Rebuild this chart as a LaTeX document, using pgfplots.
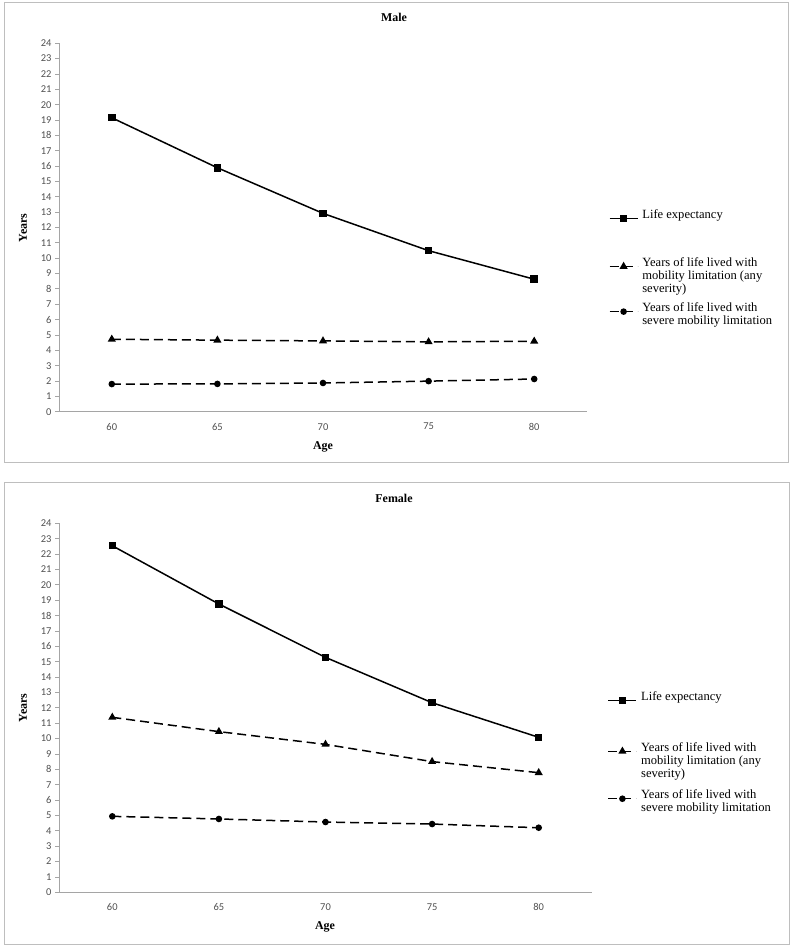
\documentclass[border=0pt]{standalone}
\usepackage{fontspec}
\setmainfont{Liberation Serif}
\newfontfamily\tickfont{Carlito}
\usepackage{pgfplots}
\usepackage{pgfplotstable}
\pgfplotsset{compat=1.18}
\definecolor{axisgray}{RGB}{165,165,165}
\definecolor{bordergray}{RGB}{190,190,190}
\definecolor{ticktext}{RGB}{80,80,80}

\pgfplotstableread{
x life any severe
0 19.15 4.72 1.80
1 15.89 4.66 1.81
2 12.92 4.61 1.87
3 10.49 4.55 1.99
4 8.63  4.59 2.13
}\maledata
\pgfplotstableread{
x life any severe
0 22.54 11.38 4.94
1 18.75 10.45 4.77
2 15.28 9.62 4.57
3 12.33 8.50 4.44
4 10.08 7.78 4.20
}\femaledata

\newcommand{\legtwo}[1]{\rule{0pt}{#1}\vtop{\hbox{Years of life lived with}\hbox{mobility limitation (any}\hbox{severity)}}}
\newcommand{\legthree}[1]{\rule{0pt}{#1}\vtop{\hbox{Years of life lived with}\hbox{severe mobility limitation}}}

\pgfplotsset{
 agestyle/.style={
  scale only axis,
  xmin=-0.5, xmax=4.5, ymin=0, ymax=24,
  axis lines*=left,
  axis line style={draw=axisgray, line width=0.8bp},
  xtick={0,...,4}, xticklabels={60,65,70,75,80},
  ytick={0,...,24},
  tick align=outside, major tick length=4bp,
  xtick style={draw=none},
  ytick style={draw=axisgray, line width=0.8bp},
  tick label style={font=\tickfont\fontsize{10.5}{12}\selectfont, text=ticktext},
  xticklabel style={yshift=-4bp},
  /pgf/number format/assume math mode=true,
  clip=false,
  legend style={draw=none, fill=none, font=\rmfamily\fontsize{12.6}{13.2}\selectfont,
    row sep=0bp, inner sep=0pt, column sep=2bp,
    cells={anchor=base west}},
  legend image code/.code={
    \draw[mark repeat=2,mark phase=2] plot coordinates {(0bp,0bp) (14bp,0bp) (28bp,0bp)};},
 },
 lifestyle/.style={black, line width=1.5bp, mark=square*, mark size=3bp, mark options={solid}},
 anystyle/.style={black, line width=1.5bp, dash pattern=on 9bp off 5bp, mark=triangle*, mark size=3.2bp, mark options={solid}},
 sevstyle/.style={black, line width=1.5bp, dash pattern=on 9bp off 5bp, mark=*, mark size=2.5bp, mark options={solid}},
}

\begin{document}
\begin{tikzpicture}
\path[use as bounding box] (0,0) rectangle (792bp,948bp);
\draw[bordergray, line width=1bp] (4bp,485bp) rectangle (788bp,945bp);
\draw[bordergray, line width=1bp] (4bp,3bp) rectangle (789bp,465bp);

% Male
\begin{axis}[agestyle, at={(59bp,536.3bp)}, anchor=south west, width=528bp, height=368.4bp,
  legend style={at={(1.041,0.555)}, anchor=north west}]
\addplot[lifestyle] table[x=x, y=life] {\maledata};
\addlegendentry{Life expectancy}
\addplot[anystyle] table[x=x, y=any] {\maledata};
\addlegendentry{\legtwo{42.7bp}}
\addplot[sevstyle] table[x=x, y=severe] {\maledata};
\addlegendentry{\legthree{39.7bp}}
\end{axis}
\node[font=\bfseries\fontsize{12}{14}\selectfont] at (394bp,931bp) {Male};
\node[font=\bfseries\fontsize{12}{14}\selectfont] at (323bp,501bp) {Age};
\node[font=\bfseries\fontsize{12}{14}\selectfont, rotate=90] at (23bp,720bp) {Years};

% Female
\begin{axis}[agestyle, at={(59bp,55.7bp)}, anchor=south west, width=533bp, height=369bp,
  legend style={at={(1.029,0.550)}, anchor=north west}]
\addplot[lifestyle] table[x=x, y=life] {\femaledata};
\addlegendentry{Life expectancy}
\addplot[anystyle] table[x=x, y=any] {\femaledata};
\addlegendentry{\legtwo{45.4bp}}
\addplot[sevstyle] table[x=x, y=severe] {\femaledata};
\addlegendentry{\legthree{42bp}}
\end{axis}
\node[font=\bfseries\fontsize{12}{14}\selectfont] at (394bp,450bp) {Female};
\node[font=\bfseries\fontsize{12}{14}\selectfont] at (325bp,21bp) {Age};
\node[font=\bfseries\fontsize{12}{14}\selectfont, rotate=90] at (23bp,240bp) {Years};
\end{tikzpicture}
\end{document}
